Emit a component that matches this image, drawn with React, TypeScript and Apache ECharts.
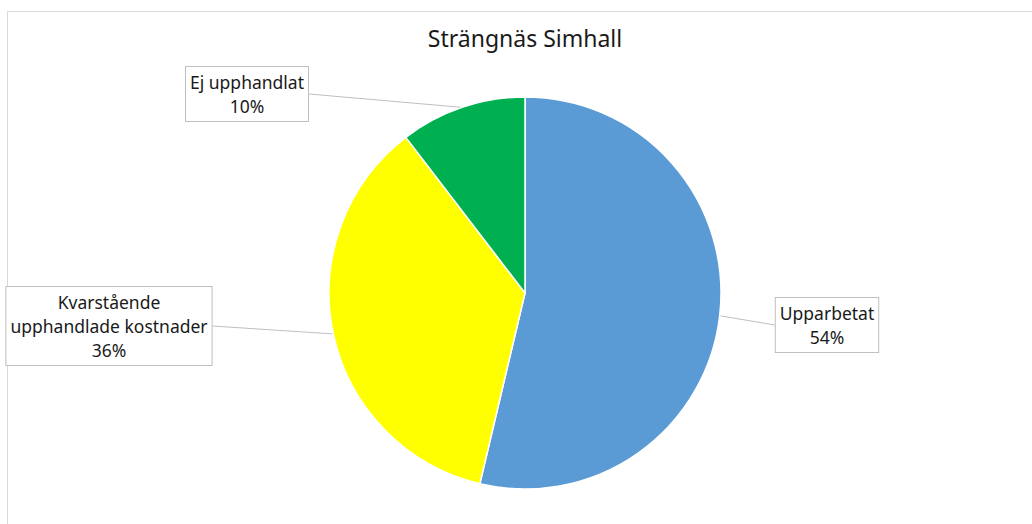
import React, { useEffect, useRef } from "react";
import * as echarts from "echarts";

const TITLE = "Strängnäs Simhall";
const categories = ["Upparbetat", "Kvarstående upphandlade kostnader", "Ej upphandlat"];
const values = [53.7, 35.9, 10.4];
const colors = ["#5B9BD5", "#FFFF00", "#00B050"];
const labelCenters: [number, number][] = [
  [827, 325],
  [109, 326],
  [247, 94],
];

export default function App() {
  const ref = useRef<HTMLDivElement>(null);
  useEffect(() => {
    if (!ref.current) return;
    const chart = echarts.init(ref.current, undefined, { renderer: "svg" });
    const font = "'Noto Sans', 'Open Sans', sans-serif";
    chart.setOption({
      animation: false,
      backgroundColor: "#ffffff",
      title: {
        text: TITLE,
        left: 520,
        top: 21,
        textAlign: "center",
        textStyle: { fontFamily: font, fontSize: 23, fontWeight: "normal", color: "#1a1a1a" },
      },
      graphic: [
        {
          type: "rect",
          shape: { x: 7.5, y: 11.5, width: 1100, height: 600 },
          style: { fill: "none", stroke: "#d9d9d9", lineWidth: 1 },
          silent: true,
        },
      ],
      series: [
        {
          type: "pie",
          center: [525, 293],
          radius: 196,
          startAngle: 90,
          clockwise: true,
          percentPrecision: 0,
          itemStyle: { borderColor: "#ffffff", borderWidth: 1.5 },
          data: categories.map((name, i) => ({
            name,
            value: values[i],
            itemStyle: { color: colors[i] },
          })),
          label: {
            show: true,
            position: "outside",
            formatter: (p: any) => `${p.name.replace("Kvarstående ", "Kvarstående\n")}\n${p.percent}%`,
            fontFamily: font,
            fontSize: 17.5,
            lineHeight: 24,
            color: "#1a1a1a",
            backgroundColor: "#ffffff",
            borderColor: "#bfbfbf",
            borderWidth: 1,
            padding: [3, 4],
            align: "center",
          },
          labelLine: {
            show: true,
            length: 10,
            length2: 0,
            lineStyle: { color: "#bfbfbf", width: 1 },
          },
          labelLayout: (params: any) => {
            const c = labelCenters[params.dataIndex];
            return { x: c[0], y: c[1], align: "center", verticalAlign: "middle" };
          },
        },
      ],
    });
    return () => chart.dispose();
  }, []);
  return (
    <div
      ref={ref}
      style={{ position: "fixed", left: 0, top: 0, width: 1032, height: 524 }}
    />
  );
}
